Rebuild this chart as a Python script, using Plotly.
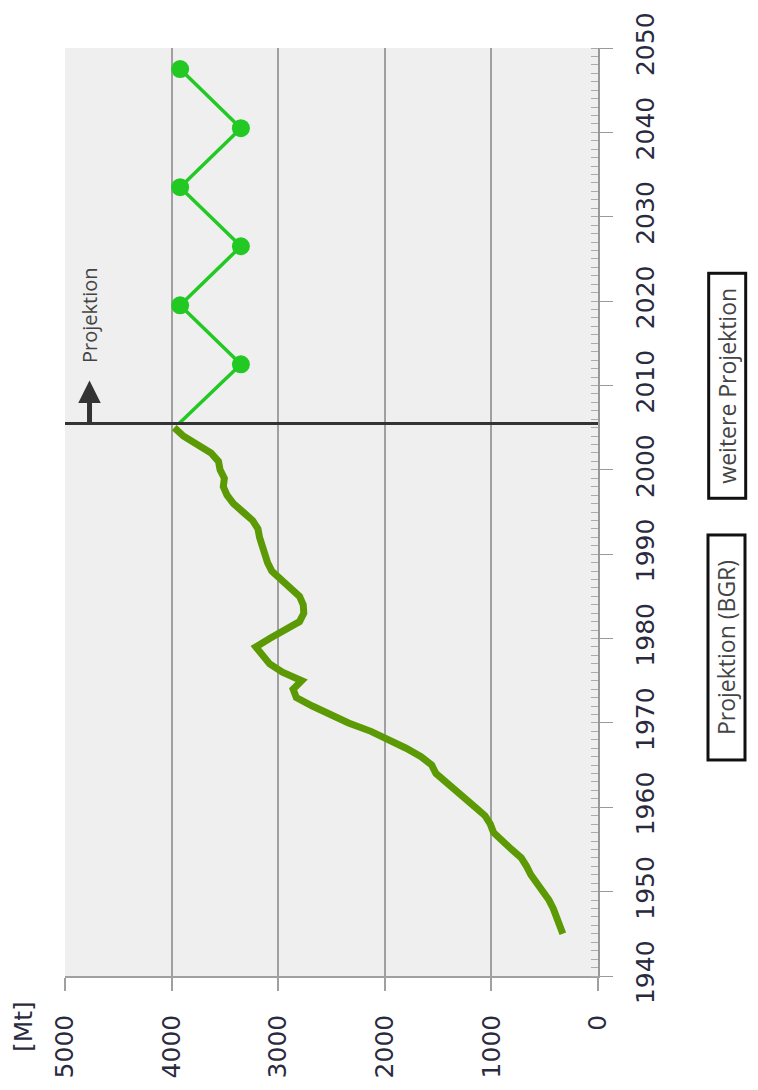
import plotly.graph_objects as go

# Historical production [Mt]
hist_years = [1945, 1946, 1947, 1948, 1949, 1950, 1951, 1952, 1953, 1954, 1955, 1956,
              1957, 1958, 1959, 1960, 1961, 1962, 1963, 1964, 1965, 1966, 1967, 1968,
              1969, 1970, 1971, 1972, 1973, 1974, 1975, 1976, 1977, 1978, 1979, 1980,
              1981, 1982, 1983, 1984, 1985, 1986, 1987, 1988, 1989, 1990, 1991, 1992,
              1993, 1994, 1995, 1996, 1997, 1998, 1999, 2000, 2001, 2002, 2003, 2004, 2005]
hist_values = [330, 355, 385, 420, 460, 520, 580, 630, 670, 720, 810, 900,
               980, 1010, 1060, 1150, 1240, 1330, 1420, 1520, 1560, 1660, 1800, 1950,
               2130, 2340, 2520, 2680, 2830, 2860, 2780, 2960, 3080, 3150, 3210, 3080,
               2950, 2800, 2760, 2765, 2800, 2890, 2980, 3060, 3100, 3130, 3160, 3175,
               3190, 3240, 3330, 3420, 3480, 3515, 3505, 3545, 3560, 3630, 3760, 3890, 3975]

# Projection
proj_years = [2005.5, 2012.5, 2019.5, 2026.5, 2033.5, 2040.5, 2047.5]
proj_values = [3930, 3350, 3920, 3350, 3920, 3350, 3920]
proj_marker = [0, 1, 1, 1, 1, 1, 1]

projection_start = 2005.5
value_ticks = [0, 1000, 2000, 3000, 4000, 5000]
year_ticks = [1940, 1950, 1960, 1970, 1980, 1990, 2000, 2010, 2020, 2030, 2040, 2050]

TICK_FONT = dict(family="DejaVu Sans", size=25, color="#2a2a3e")

fig = go.Figure()
fig.add_trace(go.Scatter(
    x=hist_values, y=hist_years, mode="lines",
    line=dict(color="#5b9a05", width=7), showlegend=False, hoverinfo="skip"))
fig.add_trace(go.Scatter(
    x=proj_values, y=proj_years, mode="lines+markers",
    line=dict(color="#22c922", width=3.5),
    marker=dict(color="#22c922", opacity=1, size=[18 * m for m in proj_marker],
                line=dict(width=0)),
    showlegend=False, hoverinfo="skip"))

fig.add_hline(y=projection_start, line=dict(color="#333333", width=3), layer="above")

# arrow "Projektion"
fig.add_annotation(x=4770, y=2010.6, ax=4770, ay=projection_start,
                   xref="x", yref="y", axref="x", ayref="y",
                   text="", showarrow=True, arrowhead=2, arrowsize=0.9,
                   arrowwidth=5, arrowcolor="#333333")
fig.add_annotation(x=4770, y=2018.3, xref="x", yref="y", text="Projektion",
                   textangle=-90, showarrow=False, xanchor="center", yanchor="middle",
                   font=dict(family="Open Sans", size=20, color="#444444"))

# axis unit
fig.add_annotation(x=-0.079, y=-0.054, xref="paper", yref="paper", text="[Mt]",
                   textangle=-90, showarrow=False, xanchor="center", yanchor="middle",
                   font=TICK_FONT)

# legend boxes
for label, py in [("Projektion (BGR)", 0.3540), ("weitere Projektion", 0.636)]:
    fig.add_annotation(x=1.242, y=py, xref="paper", yref="paper", text=label,
                       textangle=-90, showarrow=False, width=218, height=30,
                       xanchor="center", yanchor="middle",
                       bordercolor="#111111", borderwidth=3, borderpad=2,
                       bgcolor="white",
                       font=dict(family="Open Sans", size=23, color="#444444"))

fig.update_xaxes(
    range=[5000, 0], tickvals=value_ticks, tickangle=-90,
    showgrid=True, gridcolor="#a0a0a0", gridwidth=1.5,
    ticks="outside", ticklen=13, tickcolor="#a0a0a0", tickwidth=1.5,
    ticklabelstandoff=14,
    showline=True, linecolor="#a0a0a0", linewidth=1.5,
    tickfont=TICK_FONT, zeroline=False)
fig.update_yaxes(
    range=[1940, 2050], tickvals=year_ticks, side="right", tickangle=-90,
    showgrid=False, ticks="outside", ticklen=13, tickcolor="#999999",
    ticklabelstandoff=11, ticklabeloverflow="allow",
    minor=dict(ticks="inside", dtick=1, ticklen=7, tickcolor="#aaaaaa", showgrid=False),
    showline=True, linecolor="#999999", linewidth=1.5,
    tickfont=TICK_FONT, zeroline=False)

fig.update_layout(
    width=758, height=1090,
    margin=dict(l=65, r=160, t=33, b=113),
    plot_bgcolor="#efefef", paper_bgcolor="white",
    showlegend=False, hovermode=False)

fig.write_html("out.html", config={"displayModeBar": False},
               post_script="document.body.style.margin='0';document.body.style.padding='0';")
